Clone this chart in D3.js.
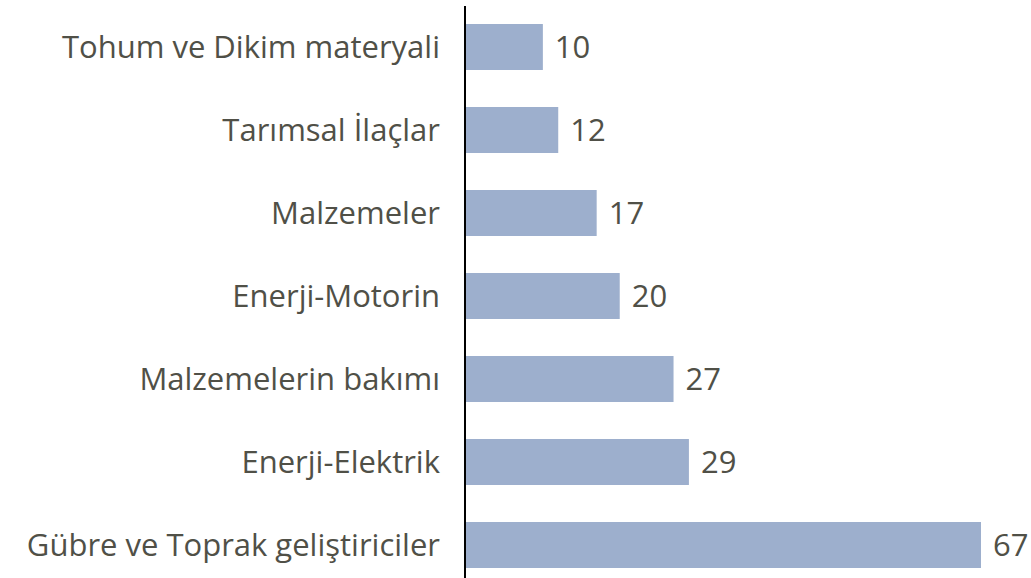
<!DOCTYPE html>
<html>
<head>
<meta charset="utf-8">
<script src="https://cdn.jsdelivr.net/npm/d3@7"></script>
<style>
  body { margin: 0; background: #fff; }
  svg text { font-family: "Open Sans", sans-serif; fill: #505047; }
</style>
</head>
<body>
<svg width="1031" height="578"></svg>
<script>
const categories = [
  "Tohum ve Dikim materyali",
  "Tarımsal İlaçlar",
  "Malzemeler",
  "Enerji-Motorin",
  "Malzemelerin bakımı",
  "Enerji-Elektrik",
  "Gübre ve Toprak geliştiriciler"
];
const values = [10, 12, 17, 20, 27, 29, 67];

const data = categories.map((c, i) => ({ name: c, value: values[i] }));

const svg = d3.select("svg");
const axisX = 465;

const x = d3.scaleLinear().domain([0, 67]).range([axisX + 1, 981]);
const y = d3.scaleBand()
  .domain(categories)
  .range([5.5, 586.5])
  .paddingInner(0.446)
  .paddingOuter(0.223);

svg.append("g")
  .selectAll("rect")
  .data(data)
  .enter()
  .append("rect")
  .attr("x", x(0))
  .attr("y", (d) => y(d.name))
  .attr("width", (d) => x(d.value) - x(0))
  .attr("height", y.bandwidth())
  .attr("fill", "#9dafcd");

svg.append("line")
  .attr("x1", axisX).attr("x2", axisX)
  .attr("y1", 6).attr("y2", 578)
  .attr("stroke", "#000")
  .attr("stroke-width", 2);

svg.append("g")
  .selectAll("text")
  .data(data)
  .enter()
  .append("text")
  .attr("x", axisX - 25)
  .attr("y", (d) => y(d.name) + y.bandwidth() / 2)
  .attr("dy", "0.36em")
  .attr("text-anchor", "end")
  .style("font-size", "31px")
  .text((d) => d.name);

svg.append("g")
  .selectAll("text")
  .data(data)
  .enter()
  .append("text")
  .attr("x", (d) => x(d.value) + 12)
  .attr("y", (d) => y(d.name) + y.bandwidth() / 2)
  .attr("dy", "0.36em")
  .style("font-size", "31px")
  .text((d) => d.value);
</script>
</body>
</html>
